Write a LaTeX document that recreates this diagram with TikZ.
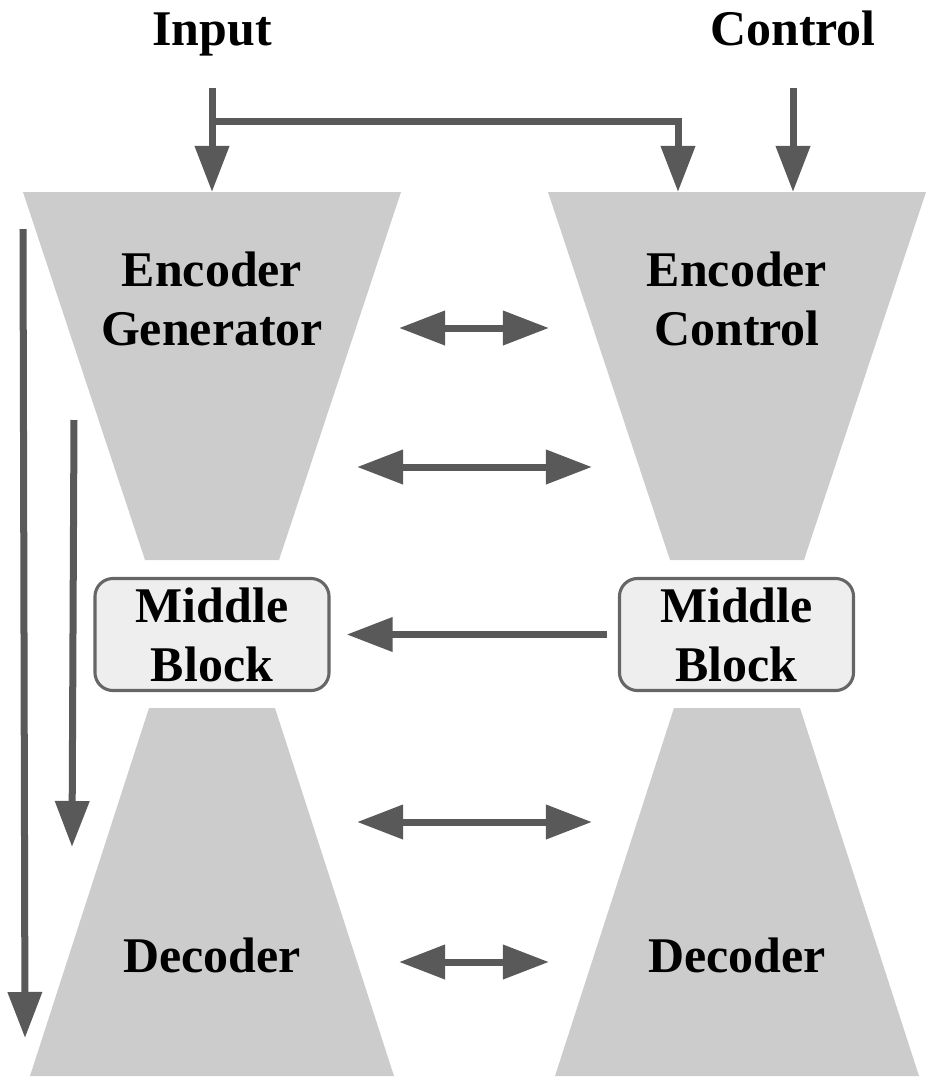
\documentclass[tikz,border=0pt]{standalone}
\usepackage{fontspec}
\setmainfont{Liberation Serif}
\usetikzlibrary{arrows.meta,calc}
\definecolor{blockgray}{RGB}{204,204,204}
\definecolor{arrowgray}{RGB}{89,89,89}
\definecolor{boxfill}{RGB}{238,238,238}
\definecolor{boxline}{RGB}{102,102,102}

\begin{document}
\begin{tikzpicture}[
  x=0.025cm, y=-0.025cm,
  every node/.style={font=\fontsize{35.5}{42}\selectfont\bfseries},
  midbox/.style={draw=boxline,fill=boxfill,line width=2.2pt,rounded corners=0.45cm,
                 minimum width=5.85cm,minimum height=2.8cm,align=center,inner sep=0pt},
  flow/.style={draw=arrowgray,line width=0.175cm,-{Triangle[length=1.15cm,width=0.825cm]}},
  both/.style={flow,{Triangle[length=1.15cm,width=0.825cm]}-{Triangle[length=1.15cm,width=0.825cm]}},
]
  \useasboundingbox (0,0) rectangle (951,1081);

  % Encoder / decoder halves of both branches
  \foreach \cx in {212,737} {
    \fill[blockgray] (\cx-189,192) -- (\cx+189,192) -- (\cx+67,560) -- (\cx-67,560) -- cycle;
    \fill[blockgray] (\cx-63,708) -- (\cx+63,708) -- (\cx+182,1076) -- (\cx-182,1076) -- cycle;
  }
  \coordinate (encGtop) at (212,192);
  \coordinate (encCtop) at (737,192);

  % Inputs
  \node[anchor=base] (input) at (212,45) {Input};
  \node[anchor=base] (control) at (793,45) {Control};

  % Generator branch
  \node[midbox] (mbG) at (212,634.5) {Middle\\Block};
  \node[align=center] (encGtxt) at (212,299) {Encoder\\Generator};
  \node (decGtxt) at (212,955) {Decoder};

  % Control branch
  \node[midbox] (mbC) at (736.5,634.5) {Middle\\Block};
  \node[align=center] (encCtxt) at (737,299) {Encoder\\Control};
  \node (decCtxt) at (737,955) {Decoder};

  % Top arrows
  \coordinate (inTop) at (212,88);
  \coordinate (split) at (212,121);
  \coordinate (ctlTop) at (793,88);
  \draw[flow] (inTop) -- (encGtop);
  \draw[flow] (split) -| ($(encCtop)+(-59,0)$);
  \draw[flow] (ctlTop) -- ($(encCtop)+(56,0)$);

  % Links between branches
  \foreach \i/\y/\xl/\xr in {1/328/399/549, 2/467/357/592, 3/822/357/592, 4/962/399/549} {
    \coordinate (lk\i) at (\xl,\y);
    \coordinate (rk\i) at (\xr,\y);
    \draw[both] (lk\i) -- (rk\i);
  }
  \draw[flow] ([xshift=-0.275cm]mbC.west) -- ([xshift=0.4cm]mbG.east);

  % Skip connections
  \coordinate (skipA) at (23,229);
  \coordinate (skipAend) at (25,1038);
  \coordinate (skipB) at (74,420);
  \coordinate (skipBend) at (72,847);
  \draw[flow] (skipA) -- (skipAend);
  \draw[flow] (skipB) -- (skipBend);
\end{tikzpicture}
\end{document}
